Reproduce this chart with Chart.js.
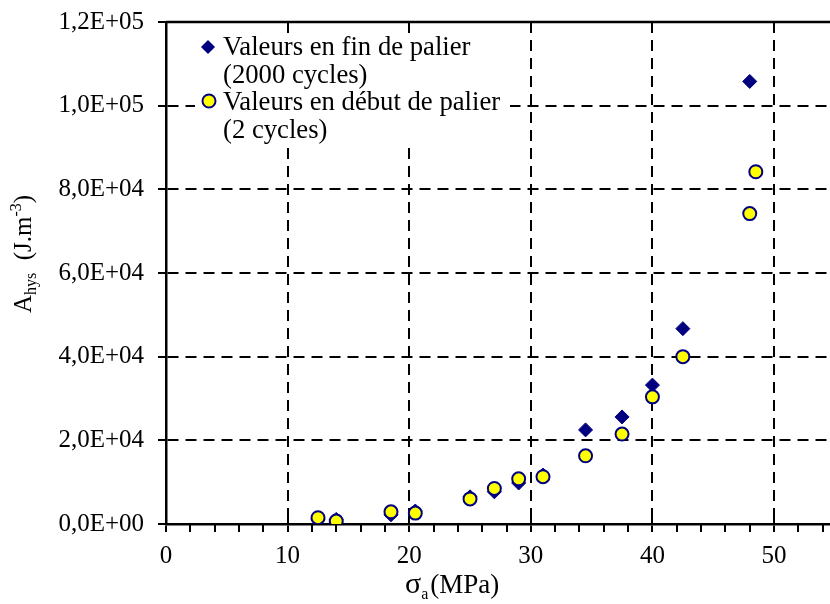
<!DOCTYPE html>
<html>
<head>
<meta charset="utf-8">
<script src="https://cdn.jsdelivr.net/npm/chart.js@4/dist/chart.umd.min.js"></script>
<style>
html,body{margin:0;padding:0;background:#fff;}
canvas{display:block;}
</style>
</head>
<body>
<canvas id="c" width="830" height="604"></canvas>
<script>
// ---- Data ----
const sigmaFin   = [12.5, 14, 18.5, 20.5, 25, 27, 29, 31, 34.5, 37.5, 40, 42.5, 48];
const ahysFin    = [1000, 1100, 2200, 3100, 6500, 7700, 9800, 11700, 22500, 25600, 33200, 46700, 105800];
const sigmaDebut = [12.5, 14, 18.5, 20.5, 25, 27, 29, 31, 34.5, 37.5, 40, 42.5, 48, 48.5];
const ahysDebut  = [1500, 700, 2900, 2600, 6000, 8500, 10800, 11300, 16300, 21500, 30400, 40000, 74200, 84200];
const xTickValues = [0, 10, 20, 30, 40, 50];
const xTickLabels = ['0', '10', '20', '30', '40', '50'];
const yTickValues = [0, 20000, 40000, 60000, 80000, 100000, 120000];
const yTickLabels = ['0,0E+00', '2,0E+04', '4,0E+04', '6,0E+04', '8,0E+04', '1,0E+05', '1,2E+05'];
const legendFin   = ['Valeurs en fin de palier', '(2000 cycles)'];
const legendDebut = ['Valeurs en début de palier', '(2 cycles)'];

const FONT = '"Liberation Serif", "Times New Roman", serif';
const NAVY = '#000080';
const YELLOW = '#FFFF00';

const toPts = (xs, ys) => xs.map((x, i) => ({x: x, y: ys[i]}));

const extras = {
  id: 'extras',
  beforeDatasetsDraw(chart) {
    const {ctx, chartArea: a, scales: {x}} = chart;
    ctx.save();
    // solid top frame line
    ctx.strokeStyle = '#000';
    ctx.lineWidth = 2.5;
    ctx.beginPath();
    ctx.moveTo(a.left, a.top);
    ctx.lineTo(a.right, a.top);
    ctx.stroke();
    // x major ticks crossing into the plot, and minor ticks below
    ctx.lineWidth = 2;
    xTickValues.forEach(v => {
      const px = Math.round(x.getPixelForValue(v));
      ctx.beginPath();
      ctx.moveTo(px, a.bottom - 15);
      ctx.lineTo(px, a.bottom);
      ctx.stroke();
    });
    for (let v = 2; v < x.max; v += 2) {
      if (v % 10 === 0) continue;
      const px = Math.round(x.getPixelForValue(v));
      ctx.beginPath();
      ctx.moveTo(px, a.bottom);
      ctx.lineTo(px, a.bottom + 8);
      ctx.stroke();
    }
    // legend box (white, hides grid)
    ctx.fillStyle = '#fff';
    ctx.fillRect(195, 34, 315, 114);
    // diamond marker
    ctx.fillStyle = NAVY;
    ctx.beginPath();
    ctx.moveTo(208, 40); ctx.lineTo(215, 47); ctx.lineTo(208, 54); ctx.lineTo(201, 47);
    ctx.closePath();
    ctx.fill();
    // circle marker
    ctx.beginPath();
    ctx.arc(209, 101, 6.5, 0, Math.PI * 2);
    ctx.fillStyle = YELLOW;
    ctx.fill();
    ctx.lineWidth = 2;
    ctx.strokeStyle = NAVY;
    ctx.stroke();
    // legend text
    ctx.fillStyle = '#000';
    ctx.font = '26.7px ' + FONT;
    ctx.textAlign = 'left';
    ctx.textBaseline = 'alphabetic';
    ctx.fillText(legendFin[0], 223, 55);
    ctx.fillText(legendFin[1], 223, 83);
    ctx.fillText(legendDebut[0], 223, 110);
    ctx.fillText(legendDebut[1], 223, 138);
    ctx.restore();
  },
  afterDraw(chart) {
    const {ctx} = chart;
    ctx.save();
    ctx.fillStyle = '#000';
    ctx.textBaseline = 'alphabetic';
    ctx.textAlign = 'left';
    // X title: σa (MPa)
    const bx = 405, by = 593;
    ctx.font = '30px ' + FONT;
    ctx.fillText('σ', bx, by);
    let w = ctx.measureText('σ').width;
    ctx.font = '16px ' + FONT;
    ctx.fillText('a', bx + w, by + 6);
    w += ctx.measureText('a').width + 2;
    ctx.font = '27px ' + FONT;
    ctx.fillText('(MPa)', bx + w, by);
    // Y title: Ahys  (J.m-3)
    ctx.translate(31, 254);
    ctx.rotate(-Math.PI / 2);
    const parts = [
      {t: 'A', f: 25, dy: 0},
      {t: 'hys', f: 16, dy: 5},
      {t: '  (J.m', f: 25, dy: 0},
      {t: '-3', f: 16, dy: -10},
      {t: ')', f: 25, dy: 0}
    ];
    let total = 0;
    parts.forEach(p => { ctx.font = p.f + 'px ' + FONT; p.w = ctx.measureText(p.t).width; total += p.w; });
    let cx = -total / 2;
    parts.forEach(p => { ctx.font = p.f + 'px ' + FONT; ctx.fillText(p.t, cx, p.dy); cx += p.w; });
    ctx.restore();
  }
};

new Chart(document.getElementById('c'), {
  type: 'scatter',
  data: {
    datasets: [
      {
        label: legendDebut.join(' '),
        data: toPts(sigmaDebut, ahysDebut),
        pointStyle: 'circle',
        pointRadius: 6.5,
        pointBackgroundColor: YELLOW,
        pointBorderColor: NAVY,
        pointBorderWidth: 2,
        order: 0
      },
      {
        label: legendFin.join(' '),
        data: toPts(sigmaFin, ahysFin),
        pointStyle: 'rectRot',
        pointRadius: 7,
        pointBackgroundColor: NAVY,
        pointBorderColor: NAVY,
        pointBorderWidth: 1,
        order: 1
      }
    ]
  },
  options: {
    responsive: false,
    animation: false,
    devicePixelRatio: 1,
    layout: {autoPadding: false, padding: {top: 22, right: 0, left: 0, bottom: 0}},
    plugins: {legend: {display: false}, tooltip: {enabled: false}},
    scales: {
      x: {
        type: 'linear',
        min: 0,
        max: 54.6,
        afterBuildTicks: s => { s.ticks = xTickValues.map(v => ({value: v})); },
        afterFit: s => { s.height = 80; s.paddingLeft = 0; s.paddingRight = 0; },
        ticks: {
          callback: (v) => xTickLabels[xTickValues.indexOf(v)],
          font: {family: FONT, size: 25},
          color: '#000',
          padding: 9,
          maxRotation: 0
        },
        grid: {color: '#000', lineWidth: 2, tickLength: 8, tickWidth: 2, tickColor: '#000'},
        border: {display: true, color: '#000', width: 2.5, dash: [11, 7]}
      },
      y: {
        type: 'linear',
        min: 0,
        max: 120000,
        afterBuildTicks: s => { s.ticks = yTickValues.map(v => ({value: v})); },
        afterFit: s => { s.width = 166; s.paddingTop = 0; s.paddingBottom = 0; },
        ticks: {
          callback: (v) => yTickLabels[yTickValues.indexOf(v)],
          font: {family: FONT, size: 25},
          color: '#000',
          padding: 14
        },
        grid: {color: '#000', lineWidth: 2, tickLength: 8, tickWidth: 2, tickColor: '#000'},
        border: {display: true, color: '#000', width: 2.5, dash: [11, 7]}
      }
    }
  },
  plugins: [extras]
});
</script>
</body>
</html>
